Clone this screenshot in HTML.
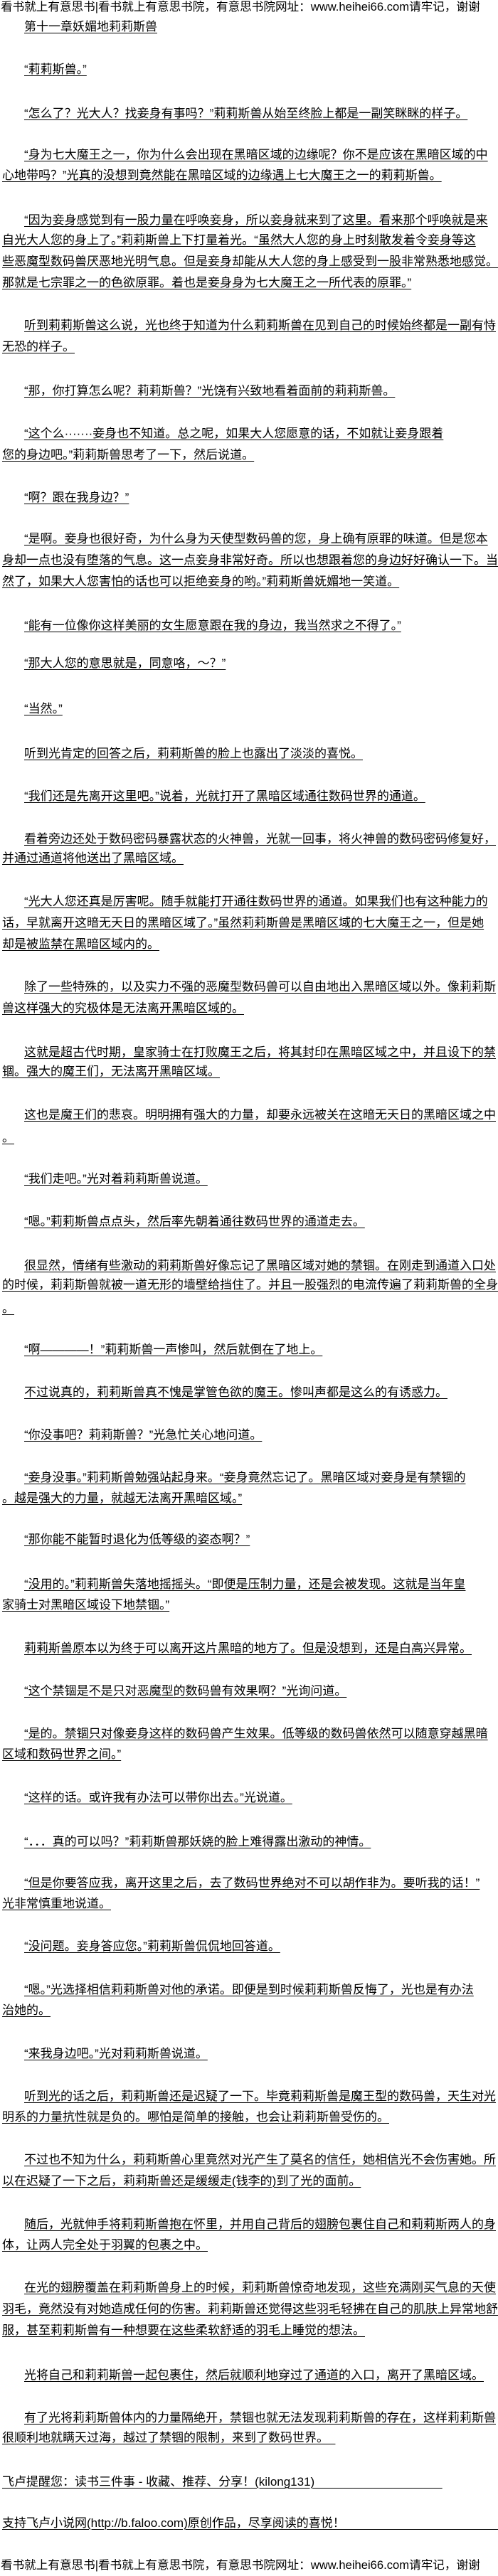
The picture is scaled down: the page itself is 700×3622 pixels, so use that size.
<!DOCTYPE html>
<html><head><meta charset="utf-8">
<style>
html,body{margin:0;padding:0;background:#fff;}
body{width:700px;height:3620px;position:relative;overflow:hidden;font-family:"Liberation Sans","Noto Sans CJK SC","WenQuanYi Zen Hei",sans-serif;font-size:17px;color:#000;}
.l{position:absolute;left:3px;height:30px;line-height:30px;white-space:nowrap;}
.i{left:34px;}
.l u{text-decoration:underline;text-underline-offset:3px;text-decoration-thickness:1px;}
.h{font-size:16.6px;left:1px;}
</style></head><body>
<div class="l h" style="top:-5px">看书就上有意思书|看书就上有意思书院，有意思书院网址：www.heihei66.com请牢记，谢谢</div>
<div class="l i" style="top:23px"><u>第十一章妖媚地莉莉斯兽</u></div>
<div class="l i" style="top:83px"><u>“莉莉斯兽。”</u></div>
<div class="l i" style="top:145px"><u>“怎么了？光大人？找妾身有事吗？”莉莉斯兽从始至终脸上都是一副笑眯眯的样子。</u></div>
<div class="l i" style="top:203px"><u>“身为七大魔王之一，你为什么会出现在黑暗区域的边缘呢？你不是应该在黑暗区域的中</u></div>
<div class="l" style="top:232px"><u>心地带吗？”光真的没想到竟然能在黑暗区域的边缘遇上七大魔王之一的莉莉斯兽。</u></div>
<div class="l i" style="top:295px"><u>“因为妾身感觉到有一股力量在呼唤妾身，所以妾身就来到了这里。看来那个呼唤就是来</u></div>
<div class="l" style="top:323px"><u>自光大人您的身上了。”莉莉斯兽上下打量着光。“虽然大人您的身上时刻散发着令妾身等这</u></div>
<div class="l" style="top:353px"><u>些恶魔型数码兽厌恶地光明气息。但是妾身却能从大人您的身上感受到一股非常熟悉地感觉。</u></div>
<div class="l" style="top:383px"><u>那就是七宗罪之一的色欲原罪。着也是妾身身为七大魔王之一所代表的原罪。”</u></div>
<div class="l i" style="top:443px"><u>听到莉莉斯兽这么说，光也终于知道为什么莉莉斯兽在见到自己的时候始终都是一副有恃</u></div>
<div class="l" style="top:473px"><u>无恐的样子。</u></div>
<div class="l i" style="top:535px"><u>“那，你打算怎么呢？莉莉斯兽？”光饶有兴致地看着面前的莉莉斯兽。</u></div>
<div class="l i" style="top:595px"><u>“这个么·······妾身也不知道。总之呢，如果大人您愿意的话，不如就让妾身跟着</u></div>
<div class="l" style="top:625px"><u>您的身边吧。”莉莉斯兽思考了一下，然后说道。</u></div>
<div class="l i" style="top:685px"><u>“啊？跟在我身边？”</u></div>
<div class="l i" style="top:743px"><u>“是啊。妾身也很好奇，为什么身为天使型数码兽的您，身上确有原罪的味道。但是您本</u></div>
<div class="l" style="top:773px"><u>身却一点也没有堕落的气息。这一点妾身非常好奇。所以也想跟着您的身边好好确认一下。当</u></div>
<div class="l" style="top:803px"><u>然了，如果大人您害怕的话也可以拒绝妾身的哟。”莉莉斯兽妩媚地一笑道。</u></div>
<div class="l i" style="top:865px"><u>“能有一位像你这样美丽的女生愿意跟在我的身边，我当然求之不得了。”</u></div>
<div class="l i" style="top:918px"><u>“那大人您的意思就是，同意咯，～？”</u></div>
<div class="l i" style="top:982px"><u>“当然。”</u></div>
<div class="l i" style="top:1045px"><u>听到光肯定的回答之后，莉莉斯兽的脸上也露出了淡淡的喜悦。</u></div>
<div class="l i" style="top:1105px"><u>“我们还是先离开这里吧。”说着，光就打开了黑暗区域通往数码世界的通道。</u></div>
<div class="l i" style="top:1165px"><u>看着旁边还处于数码密码暴露状态的火神兽，光就一回事，将火神兽的数码密码修复好，</u></div>
<div class="l" style="top:1192px"><u>并通过通道将他送出了黑暗区域。</u></div>
<div class="l i" style="top:1253px"><u>“光大人您还真是厉害呢。随手就能打开通往数码世界的通道。如果我们也有这种能力的</u></div>
<div class="l" style="top:1283px"><u>话，早就离开这暗无天日的黑暗区域了。”虽然莉莉斯兽是黑暗区域的七大魔王之一，但是她</u></div>
<div class="l" style="top:1313px"><u>却是被监禁在黑暗区域内的。</u></div>
<div class="l i" style="top:1373px"><u>除了一些特殊的，以及实力不强的恶魔型数码兽可以自由地出入黑暗区域以外。像莉莉斯</u></div>
<div class="l" style="top:1403px"><u>兽这样强大的究极体是无法离开黑暗区域的。</u></div>
<div class="l i" style="top:1465px"><u>这就是超古代时期，皇家骑士在打败魔王之后，将其封印在黑暗区域之中，并且设下的禁</u></div>
<div class="l" style="top:1492px"><u>锢。强大的魔王们，无法离开黑暗区域。</u></div>
<div class="l i" style="top:1553px"><u>这也是魔王们的悲哀。明明拥有强大的力量，却要永远被关在这暗无天日的黑暗区域之中</u></div>
<div class="l" style="top:1585px"><u>。</u></div>
<div class="l i" style="top:1643px"><u>“我们走吧。”光对着莉莉斯兽说道。</u></div>
<div class="l i" style="top:1703px"><u>“嗯。”莉莉斯兽点点头，然后率先朝着通往数码世界的通道走去。</u></div>
<div class="l i" style="top:1765px"><u>很显然，情绪有些激动的莉莉斯兽好像忘记了黑暗区域对她的禁锢。在刚走到通道入口处</u></div>
<div class="l" style="top:1792px"><u>的时候，莉莉斯兽就被一道无形的墙壁给挡住了。并且一股强烈的电流传遍了莉莉斯兽的全身</u></div>
<div class="l" style="top:1825px"><u>。</u></div>
<div class="l i" style="top:1883px"><u>“啊————！”莉莉斯兽一声惨叫，然后就倒在了地上。</u></div>
<div class="l i" style="top:1943px"><u>不过说真的，莉莉斯兽真不愧是掌管色欲的魔王。惨叫声都是这么的有诱惑力。</u></div>
<div class="l i" style="top:2003px"><u>“你没事吧？莉莉斯兽？”光急忙关心地问道。</u></div>
<div class="l i" style="top:2063px"><u>“妾身没事。”莉莉斯兽勉强站起身来。“妾身竟然忘记了。黑暗区域对妾身是有禁锢的</u></div>
<div class="l" style="top:2092px"><u>。越是强大的力量，就越无法离开黑暗区域。”</u></div>
<div class="l i" style="top:2150px"><u>“那你能不能暂时退化为低等级的姿态啊？”</u></div>
<div class="l i" style="top:2213px"><u>“没用的。”莉莉斯兽失落地摇摇头。“即便是压制力量，还是会被发现。这就是当年皇</u></div>
<div class="l" style="top:2242px"><u>家骑士对黑暗区域设下地禁锢。”</u></div>
<div class="l i" style="top:2303px"><u>莉莉斯兽原本以为终于可以离开这片黑暗的地方了。但是没想到，还是白高兴异常。</u></div>
<div class="l i" style="top:2363px"><u>“这个禁锢是不是只对恶魔型的数码兽有效果啊？”光询问道。</u></div>
<div class="l i" style="top:2423px"><u>“是的。禁锢只对像妾身这样的数码兽产生效果。低等级的数码兽依然可以随意穿越黑暗</u></div>
<div class="l" style="top:2452px"><u>区域和数码世界之间。”</u></div>
<div class="l i" style="top:2513px"><u>“这样的话。或许我有办法可以带你出去。”光说道。</u></div>
<div class="l i" style="top:2575px"><u>“．．．真的可以吗？”莉莉斯兽那妖娆的脸上难得露出激动的神情。</u></div>
<div class="l i" style="top:2633px"><u>“但是你要答应我，离开这里之后，去了数码世界绝对不可以胡作非为。要听我的话！”</u></div>
<div class="l" style="top:2662px"><u>光非常慎重地说道。</u></div>
<div class="l i" style="top:2722px"><u>“没问题。妾身答应您。”莉莉斯兽侃侃地回答道。</u></div>
<div class="l i" style="top:2783px"><u>“嗯。”光选择相信莉莉斯兽对他的承诺。即便是到时候莉莉斯兽反悔了，光也是有办法</u></div>
<div class="l" style="top:2812px"><u>治她的。</u></div>
<div class="l i" style="top:2873px"><u>“来我身边吧。”光对莉莉斯兽说道。</u></div>
<div class="l i" style="top:2933px"><u>听到光的话之后，莉莉斯兽还是迟疑了一下。毕竟莉莉斯兽是魔王型的数码兽，天生对光</u></div>
<div class="l" style="top:2962px"><u>明系的力量抗性就是负的。哪怕是简单的接触，也会让莉莉斯兽受伤的。</u></div>
<div class="l i" style="top:3022px"><u>不过也不知为什么，莉莉斯兽心里竟然对光产生了莫名的信任，她相信光不会伤害她。所</u></div>
<div class="l" style="top:3052px"><u>以在迟疑了一下之后，莉莉斯兽还是缓缓走(钱李的)到了光的面前。</u></div>
<div class="l i" style="top:3113px"><u>随后，光就伸手将莉莉斯兽抱在怀里，并用自己背后的翅膀包裹住自己和莉莉斯两人的身</u></div>
<div class="l" style="top:3142px"><u>体，让两人完全处于羽翼的包裹之中。</u></div>
<div class="l i" style="top:3202px"><u>在光的翅膀覆盖在莉莉斯兽身上的时候，莉莉斯兽惊奇地发现，这些充满刚买气息的天使</u></div>
<div class="l" style="top:3232px"><u>羽毛，竟然没有对她造成任何的伤害。莉莉斯兽还觉得这些羽毛轻拂在自己的肌肤上异常地舒</u></div>
<div class="l" style="top:3262px"><u>服，甚至莉莉斯兽有一种想要在这些柔软舒适的羽毛上睡觉的想法。</u></div>
<div class="l i" style="top:3325px"><u>光将自己和莉莉斯兽一起包裹住，然后就顺利地穿过了通道的入口，离开了黑暗区域。</u></div>
<div class="l i" style="top:3385px"><u>有了光将莉莉斯兽体内的力量隔绝开，禁锢也就无法发现莉莉斯兽的存在，这样莉莉斯兽</u></div>
<div class="l" style="top:3413px"><u>很顺利地就瞒天过海，越过了禁锢的限制，来到了数码世界。&nbsp;&nbsp;</u></div>
<div class="l" style="top:3475px"><u>飞卢提醒您：读书三件事 - 收藏、推荐、分享！(kilong131)&nbsp;&nbsp;&nbsp;&nbsp;&nbsp;&nbsp;&nbsp;&nbsp;&nbsp;&nbsp;&nbsp;&nbsp;&nbsp;&nbsp;&nbsp;&nbsp;&nbsp;&nbsp;&nbsp;&nbsp;&nbsp;&nbsp;&nbsp;&nbsp;&nbsp;&nbsp;&nbsp;&nbsp;&nbsp;&nbsp;&nbsp;&nbsp;&nbsp;&nbsp;&nbsp;&nbsp;&nbsp;&nbsp;</u></div>
<div class="l" style="top:3533px"><u>支持飞卢小说网(http://b.faloo.com)原创作品，尽享阅读的喜悦！&nbsp;&nbsp;&nbsp;&nbsp;&nbsp;&nbsp;&nbsp;&nbsp;&nbsp;&nbsp;&nbsp;&nbsp;&nbsp;&nbsp;&nbsp;&nbsp;&nbsp;&nbsp;&nbsp;&nbsp;&nbsp;&nbsp;&nbsp;&nbsp;&nbsp;&nbsp;&nbsp;&nbsp;&nbsp;&nbsp;&nbsp;&nbsp;&nbsp;&nbsp;&nbsp;&nbsp;&nbsp;&nbsp;&nbsp;&nbsp;&nbsp;&nbsp;&nbsp;&nbsp;&nbsp;&nbsp;</u></div>
<div class="l h" style="top:3592px">看书就上有意思书|看书就上有意思书院，有意思书院网址：www.heihei66.com请牢记，谢谢</div>
</body></html>
